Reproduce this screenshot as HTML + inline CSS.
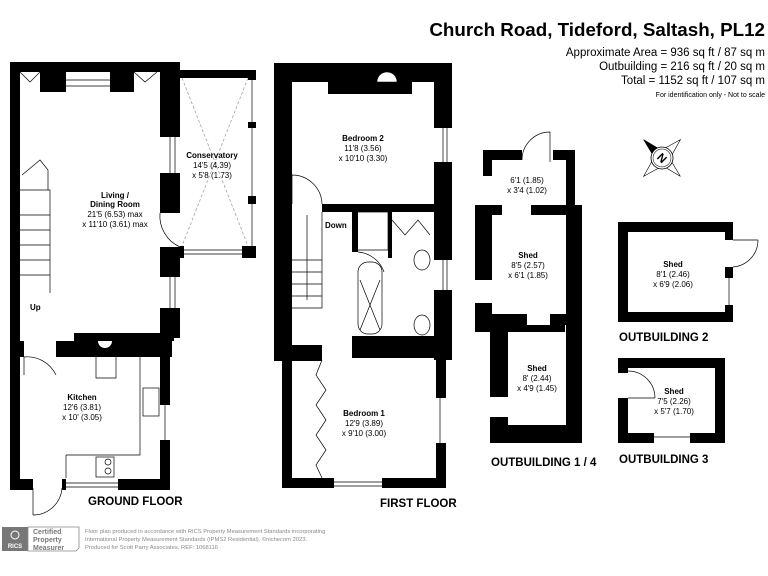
<!DOCTYPE html>
<html><head><meta charset="utf-8"><style>
html,body{margin:0;padding:0;background:#fff;width:768px;height:576px;overflow:hidden}
svg{display:block}
text{font-family:"Liberation Sans",sans-serif;fill:#000}
.n{font-size:8px;font-weight:bold}
.d{font-size:8px}
.h{font-size:11.5px;font-weight:bold}
</style></head><body>
<svg width="768" height="576" viewBox="0 0 768 576">
<g fill="#000">
<!-- GROUND FLOOR -->
<rect x="10" y="62" width="170" height="10"/>
<rect x="40" y="72" width="26" height="20"/>
<rect x="110" y="72" width="24" height="20"/>
<rect x="10" y="62" width="10" height="428"/>
<rect x="160" y="62" width="20" height="75"/>
<rect x="160" y="173" width="20" height="40"/>
<rect x="160" y="247" width="20" height="30"/>
<rect x="160" y="308" width="20" height="30"/>
<rect x="74" y="333" width="100" height="8"/>
<rect x="56" y="341" width="116" height="16"/>
<rect x="10" y="341" width="14" height="16"/>
<rect x="160" y="357" width="10" height="48"/>
<rect x="160" y="440" width="10" height="50"/>
<rect x="10" y="479" width="23" height="11"/>
<rect x="118" y="479" width="52" height="11"/>
<rect x="62" y="479" width="4" height="11"/>
<!-- conservatory -->
<rect x="180" y="70" width="76" height="8"/>
<rect x="248" y="70" width="8" height="10"/>
<rect x="248" y="122" width="8" height="6"/>
<rect x="248" y="196" width="8" height="8"/>
<rect x="242" y="246" width="14" height="12"/>
<rect x="180" y="246" width="4" height="12"/>
<!-- FIRST FLOOR -->
<rect x="274" y="63" width="178" height="19"/>
<rect x="328" y="82" width="84" height="12"/>
<rect x="274" y="63" width="18" height="298"/>
<rect x="434" y="63" width="18" height="65"/>
<rect x="434" y="162" width="18" height="98"/>
<rect x="434" y="290" width="18" height="70"/>
<rect x="322" y="204" width="112" height="8"/>
<rect x="352" y="212" width="6" height="40"/>
<rect x="388" y="212" width="4" height="46"/>
<rect x="352" y="336" width="100" height="22"/>
<rect x="274" y="345" width="48" height="16"/>
<rect x="282" y="345" width="10" height="143"/>
<rect x="436" y="358" width="10" height="40"/>
<rect x="436" y="443" width="10" height="45"/>
<rect x="282" y="478" width="52" height="10"/>
<rect x="382" y="478" width="64" height="10"/>
<!-- OUTBUILDING 1/4 -->
<rect x="483" y="150" width="39" height="10"/>
<rect x="483" y="150" width="9" height="26"/>
<rect x="553" y="150" width="22" height="10"/>
<rect x="566" y="150" width="9" height="60"/>
<rect x="475" y="205" width="27" height="10"/>
<rect x="531" y="205" width="51" height="10"/>
<rect x="475" y="205" width="17" height="75"/>
<rect x="475" y="303" width="17" height="29"/>
<rect x="566" y="205" width="16" height="238"/>
<rect x="475" y="314" width="52" height="11"/>
<rect x="550" y="314" width="16" height="11"/>
<rect x="475" y="325" width="90" height="7"/>
<rect x="490" y="332" width="18" height="65"/>
<rect x="490" y="417" width="18" height="26"/>
<rect x="490" y="425" width="92" height="18"/>
<!-- OUTBUILDING 2 -->
<rect x="618" y="222" width="115" height="10"/>
<rect x="618" y="312" width="115" height="10"/>
<rect x="618" y="222" width="10" height="100"/>
<rect x="725" y="222" width="8" height="18"/>
<rect x="725" y="267" width="8" height="11"/>
<rect x="725" y="305" width="8" height="17"/>
<!-- OUTBUILDING 3 -->
<rect x="618" y="358" width="107" height="10"/>
<rect x="618" y="358" width="10" height="15"/>
<rect x="618" y="398" width="10" height="45"/>
<rect x="715" y="358" width="10" height="85"/>
<rect x="618" y="433" width="36" height="10"/>
<rect x="690" y="433" width="35" height="10"/>
</g>
<g fill="none" stroke="#000" stroke-width="0.7">
<path d="M66 80h44M66 86h44M170 137v36M175 137v36M170 277v31M175 277v31M165 405v35M62 483h56M62 487h56"/>
<path d="M252 80v42M252 128v68M252 204v42M184 250h58M184 254h58"/>
<path d="M443 128v34M447 128v34M443 260v30M447 260v30M440 398v45M334 482h48M334 486h48"/>
<path d="M729 278v27M654 437h36"/>
<path d="M182 78L248 246M248 78L182 246" stroke-dasharray="3,2" stroke="#999"/>
<path d="M160 213A34 34 0 0 0 180 247" />
<path d="M24 357A32 32 0 0 1 56 375M24 357V375"/>
<path d="M33 488V515M33 515A29 29 0 0 0 62 488"/>
<path d="M292 175V204M292 175A30 30 0 0 1 322 204"/>
<path d="M358 252A30 30 0 0 1 384 272"/>
<path d="M550 132V162M522 160A28 28 0 0 1 550 132"/>
<path d="M733 240H758M758 240A27 27 0 0 1 733 267"/>
<path d="M628 398H655M655 398A27 27 0 0 0 628 371"/>
<path d="M22 175L40 160L48 170V190M20 190H50V293M20 215H50M20 230H50M20 245H50M20 260H50M20 275H50"/>
<path d="M322 212V308H292M292 260H322M292 272H322M292 284H322M292 296H322M307 215V300"/>
<path d="M358 212H388V250H358"/>
<path d="M392 220L405 235L418 220L430 235"/>
<rect x="358" y="262" width="24" height="72" rx="10"/>
<path d="M360 280L380 330M380 280L360 330"/>
<ellipse cx="422" cy="260" rx="8" ry="10"/>
<ellipse cx="422" cy="325" rx="8" ry="10"/>
<path d="M322 360L316 375L326 390L316 405L326 420L316 435L326 450L316 465L322 478"/>
<path d="M96 357V378H116V357"/>
<rect x="143" y="388" width="16" height="28"/>
<path d="M66 455H140V357M66 455V478"/>
<rect x="96" y="457" width="18" height="20"/>
<circle cx="108" cy="462" r="3"/><circle cx="108" cy="471" r="3"/>
<path d="M20 72L30 82L40 72M134 72L145 82L157 72"/>
</g>
<path d="M112 341A7 7 0 0 1 98 341Z" fill="#fff"/>
<path d="M397 82A10 10 0 0 0 377 82Z" fill="#fff" stroke="#000" stroke-width="0.5"/>
<g transform="translate(662,158) rotate(-45)">
<path d="M0-26L5-6L26 0L5 6L0 26L-5 6L-26 0L-5-6Z" fill="#fff" stroke="#000" stroke-width="0.6"/>
<path d="M0-26L5-6L-5-6Z" fill="#000"/>
<circle r="11" fill="#fff" stroke="#000" stroke-width="0.8"/>
<circle r="9" fill="none" stroke="#000" stroke-width="0.5"/>
</g>
<text x="662" y="162" class="h" text-anchor="middle" transform="rotate(45 662 158)">N</text>
<g text-anchor="middle">
<text x="115" y="198" class="n">Living /</text>
<text x="115" y="207" class="n">Dining Room</text>
<text x="115" y="217" class="d">21'5 (6.53) max</text>
<text x="115" y="227" class="d">x 11'10 (3.61) max</text>
<text x="212" y="158" class="n">Conservatory</text>
<text x="212" y="168" class="d">14'5 (4.39)</text>
<text x="212" y="178" class="d">x 5'8 (1.73)</text>
<text x="82" y="400" class="n">Kitchen</text>
<text x="82" y="410" class="d">12'6 (3.81)</text>
<text x="82" y="420" class="d">x 10' (3.05)</text>
<text x="363" y="141" class="n">Bedroom 2</text>
<text x="363" y="151" class="d">11'8 (3.56)</text>
<text x="363" y="161" class="d">x 10'10 (3.30)</text>
<text x="364" y="416" class="n">Bedroom 1</text>
<text x="364" y="426" class="d">12'9 (3.89)</text>
<text x="364" y="436" class="d">x 9'10 (3.00)</text>
<text x="527" y="183" class="d">6'1 (1.85)</text>
<text x="527" y="193" class="d">x 3'4 (1.02)</text>
<text x="528" y="258" class="n">Shed</text>
<text x="528" y="268" class="d">8'5 (2.57)</text>
<text x="528" y="278" class="d">x 6'1 (1.85)</text>
<text x="537" y="371" class="n">Shed</text>
<text x="537" y="381" class="d">8' (2.44)</text>
<text x="537" y="391" class="d">x 4'9 (1.45)</text>
<text x="673" y="267" class="n">Shed</text>
<text x="673" y="277" class="d">8'1 (2.46)</text>
<text x="673" y="287" class="d">x 6'9 (2.06)</text>
<text x="674" y="394" class="n">Shed</text>
<text x="674" y="404" class="d">7'5 (2.26)</text>
<text x="674" y="414" class="d">x 5'7 (1.70)</text>
</g>
<text x="30" y="310" class="n">Up</text>
<text x="325" y="228" class="n">Down</text>
<text x="88" y="505" class="h">GROUND FLOOR</text>
<text x="380" y="507" class="h">FIRST FLOOR</text>
<text x="491" y="466" class="h">OUTBUILDING 1 / 4</text>
<text x="619" y="341" class="h">OUTBUILDING 2</text>
<text x="619" y="463" class="h">OUTBUILDING 3</text>
<g text-anchor="end">
<text x="765" y="36" style="font-size:18.8px;font-weight:bold">Church Road, Tideford, Saltash, PL12</text>
<text x="765" y="56" style="font-size:11.5px">Approximate Area = 936 sq ft / 87 sq m</text>
<text x="765" y="70" style="font-size:11.5px">Outbuilding = 216 sq ft / 20 sq m</text>
<text x="765" y="84" style="font-size:11.5px">Total = 1152 sq ft / 107 sq m</text>
<text x="765" y="97" style="font-size:7px">For identification only - Not to scale</text>
</g>
<rect x="2" y="527" width="26" height="24" fill="#777"/>
<text x="15" y="548" text-anchor="middle" style="font-size:6px;fill:#fff;font-weight:bold">RICS</text>
<circle cx="15" cy="535" r="4" fill="none" stroke="#fff" stroke-width="1"/>
<path d="M28 527H79V548L76 551H28Z" fill="#fff" stroke="#888" stroke-width="0.8"/>
<text x="33" y="534" style="font-size:7px;font-weight:bold;fill:#777">Certified</text>
<text x="33" y="542" style="font-size:7px;font-weight:bold;fill:#777">Property</text>
<text x="33" y="550" style="font-size:7px;font-weight:bold;fill:#777">Measurer</text>
<text x="85" y="533" style="font-size:5.8px;fill:#888">Floor plan produced in accordance with RICS Property Measurement Standards incorporating</text>
<text x="85" y="541" style="font-size:5.8px;fill:#888">International Property Measurement Standards (IPMS2 Residential).  ©nichecom 2023.</text>
<text x="85" y="549" style="font-size:5.8px;fill:#888">Produced for Scott Parry Associates.   REF: 1068116</text>
</svg>
</body></html>
